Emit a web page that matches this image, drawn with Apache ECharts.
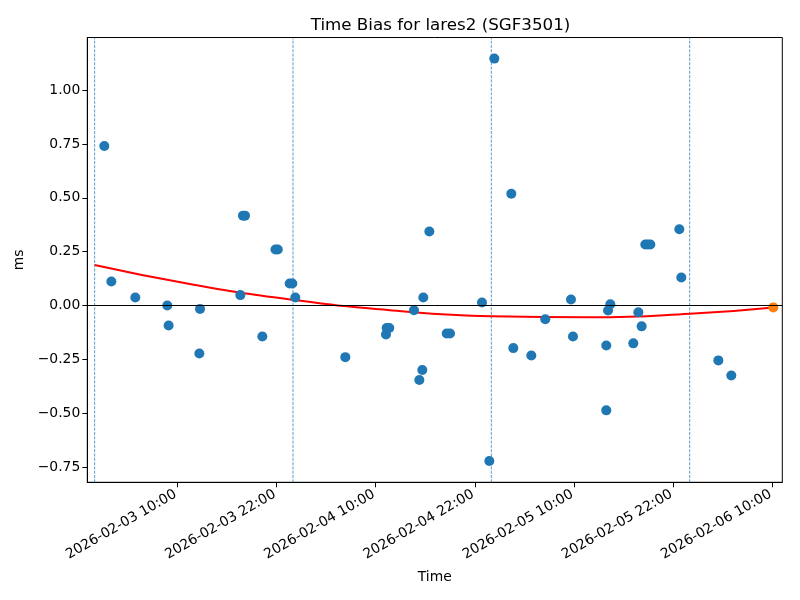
<!DOCTYPE html>
<html>
<head>
<meta charset="utf-8">
<script src="https://cdn.jsdelivr.net/npm/echarts@6/dist/echarts.min.js"></script>
<style>
html,body{margin:0;padding:0;background:#fff;}
#chart{width:800px;height:600px;}
</style>
</head>
<body>
<div id="chart"></div>
<script>
// x values are hours since 2026-02-03 00:00
const xTickValues = [10, 22, 34, 46, 58, 70, 82];
const xTickLabels = ['2026-02-03 10:00', '2026-02-03 22:00', '2026-02-04 10:00', '2026-02-04 22:00', '2026-02-05 10:00', '2026-02-05 22:00', '2026-02-06 10:00'];
const yTickValues = [-0.75, -0.5, -0.25, 0, 0.25, 0.5, 0.75, 1.0];
const yTickLabels = ['\u22120.75', '\u22120.50', '\u22120.25', '0.00', '0.25', '0.50', '0.75', '1.00'];

const dayBoundaries = [0, 24, 48, 72];

const biasHours = [1.17, 2.02, 4.92, 8.79, 8.95, 12.67, 12.75, 17.63, 17.95, 18.19, 20.29, 21.88, 22.16, 23.6, 23.92, 24.28,
  30.33, 35.25, 35.33, 35.65, 38.64, 39.29, 39.65, 39.77, 40.5, 42.6, 43.0, 46.87, 47.76, 48.36, 50.42, 50.66, 52.84,
  54.53, 57.64, 57.88, 61.91, 61.91, 62.12, 62.4, 65.18, 65.79, 66.19, 66.63, 66.93, 67.24, 70.75, 70.99, 75.47, 77.04];
const biasValues = [0.74, 0.111, 0.037, 0.0, -0.093, -0.223, -0.016, 0.048, 0.417, 0.417, -0.144, 0.26, 0.26, 0.102, 0.102, 0.037,
  -0.240, -0.135, -0.105, -0.105, -0.022, -0.346, -0.300, 0.037, 0.343, -0.130, -0.130, 0.014, -0.722, 1.146, 0.519, -0.198, -0.232,
  -0.064, 0.028, -0.144, -0.186, -0.487, -0.023, 0.006, -0.176, -0.032, -0.097, 0.283, 0.283, 0.283, 0.354, 0.130, -0.255, -0.325];

const fitHours = [0, 12, 24, 36, 48, 60, 72, 82.12];
const fitValues = [0.188, 0.096, 0.026, -0.023, -0.050, -0.055, -0.039, -0.009];

const latestHours = [82.12];
const latestValues = [-0.009];

function pick(vals, labels, v) {
  for (let i = 0; i < vals.length; i++) if (Math.abs(vals[i] - v) < 1e-9) return labels[i];
  return '';
}

const FONT = 'DejaVu Sans';
const BLUE = '#1f77b4';
const X_MIN = -0.89, X_MAX = 83.21, Y_MIN = -0.821, Y_MAX = 1.244;

const dayLineSeries = dayBoundaries.map(h => ({
  name: 'day ' + h, type: 'line', z: 1, silent: true, showSymbol: false, symbol: 'none',
  data: [[h, Y_MIN], [h, Y_MAX]],
  lineStyle: {color: BLUE, width: 0.8, type: [3, 1.3], opacity: 0.9},
  emphasis: {disabled: true}
}));

const chart = echarts.init(document.getElementById('chart'), null, {renderer: 'canvas'});
chart.setOption({
  animation: false,
  backgroundColor: '#fff',
  title: {
    text: 'Time Bias for lares2 (SGF3501)',
    left: 435.5, top: 12, textAlign: 'center',
    textStyle: {fontFamily: FONT, fontSize: 16.7, fontWeight: 'normal', color: '#000'}
  },
  grid: {left: 87.3, right: 17.7, top: 37.5, bottom: 117.7, show: true, borderColor: '#000', borderWidth: 1, backgroundColor: 'transparent'},
  xAxis: {
    type: 'value', min: X_MIN, max: X_MAX,
    name: 'Time', nameLocation: 'middle', nameGap: 88, nameMoveOverlap: false,
    nameTextStyle: {fontFamily: FONT, fontSize: 13.9, color: '#000', verticalAlign: 'top'},
    axisLine: {show: true, onZero: false, lineStyle: {color: '#000', width: 1}},
    axisTick: {show: true, customValues: xTickValues, length: 5, lineStyle: {color: '#000', width: 1}},
    axisLabel: {customValues: xTickValues, rotate: 30, margin: 10, padding: [0, 2, 0, 0], fontFamily: FONT, fontSize: 13.9, color: '#000',
      formatter: v => pick(xTickValues, xTickLabels, v)},
    splitLine: {show: false},
    axisPointer: {show: false}
  },
  yAxis: {
    type: 'value', min: Y_MIN, max: Y_MAX,
    name: 'ms', nameLocation: 'middle', nameGap: 54,
    nameTextStyle: {fontFamily: FONT, fontSize: 13.9, color: '#000'},
    axisLine: {show: true, onZero: false, lineStyle: {color: '#000', width: 1}},
    axisTick: {show: true, customValues: yTickValues, length: 5, lineStyle: {color: '#000', width: 1}},
    axisLabel: {customValues: yTickValues, margin: 7, fontFamily: FONT, fontSize: 13.9, color: '#000',
      formatter: v => pick(yTickValues, yTickLabels, v)},
    splitLine: {show: false}
  },
  series: dayLineSeries.concat([
    {
      name: 'fit', type: 'line', z: 2, smooth: true, showSymbol: false, silent: true,
      data: fitHours.map((h, i) => [h, fitValues[i]]),
      lineStyle: {color: '#ff0000', width: 2},
      markLine: {
        silent: true, symbol: 'none', label: {show: false}, animation: false,
        data: [{yAxis: 0, lineStyle: {color: '#000', width: 1, type: 'solid', opacity: 1}}]
      }
    },
    {
      name: 'bias', type: 'scatter', z: 3, symbolSize: 10,
      data: biasHours.map((h, i) => [h, biasValues[i]]),
      itemStyle: {color: BLUE, opacity: 1}
    },
    {
      name: 'latest', type: 'scatter', z: 4, symbolSize: 10,
      data: latestHours.map((h, i) => [h, latestValues[i]]),
      itemStyle: {color: '#ff7f0e', opacity: 1}
    }
  ])
});
</script>
</body>
</html>
